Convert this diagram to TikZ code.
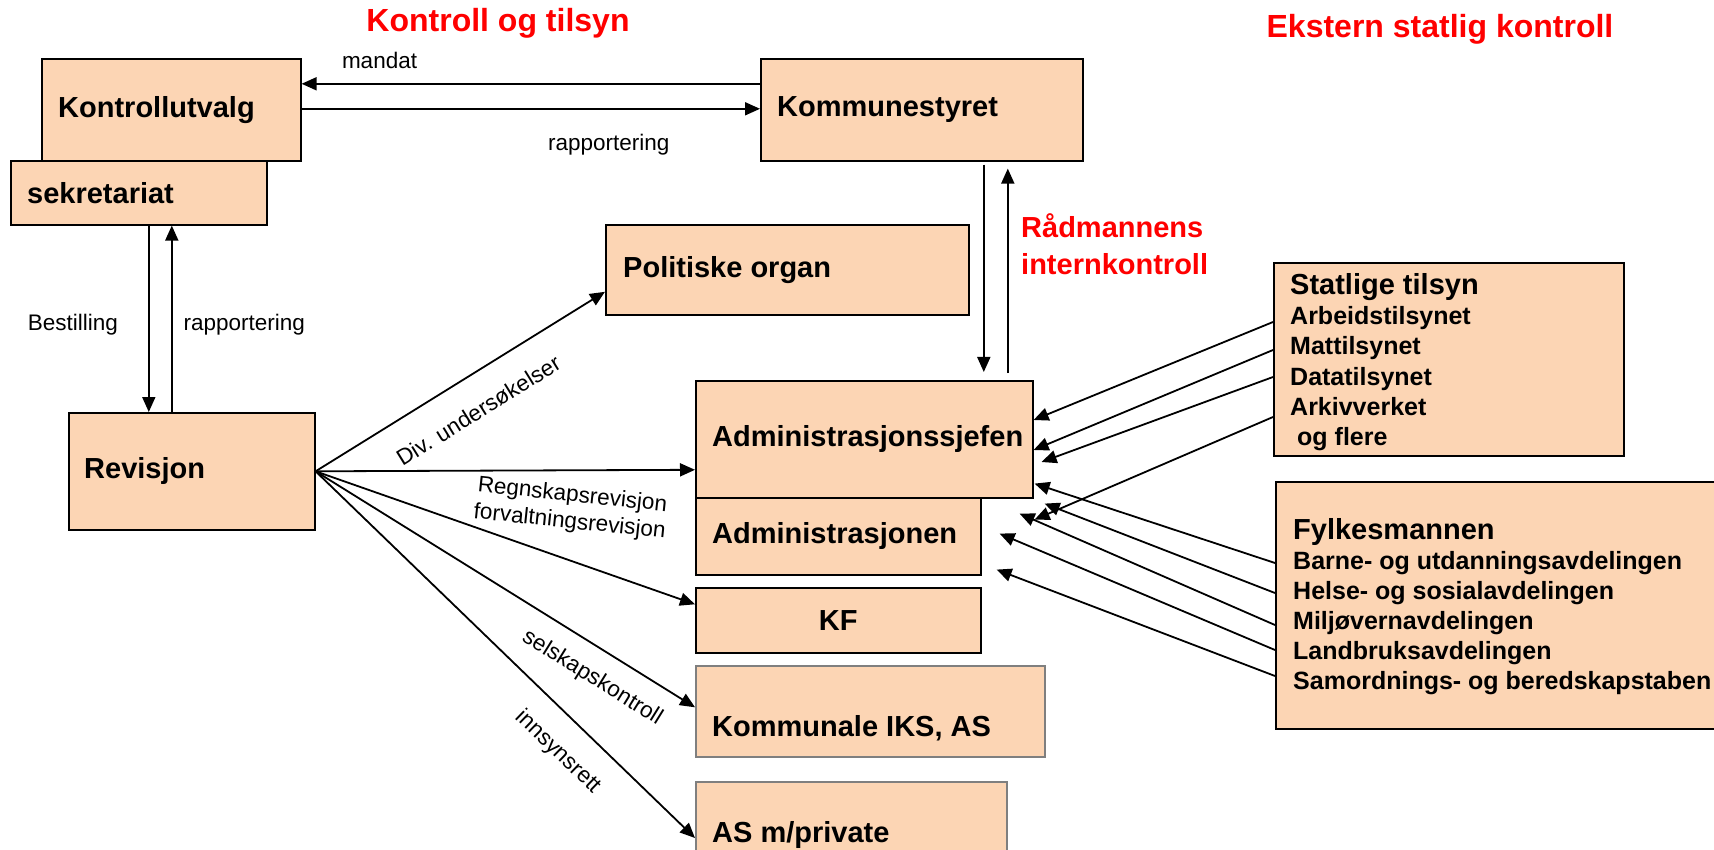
\documentclass[tikz,border=0pt]{standalone}
\usepackage{fontspec}
\setmainfont{Liberation Sans}
\usetikzlibrary{arrows.meta,positioning,calc}
\definecolor{peach}{HTML}{FCD5B4}
\definecolor{boxgray}{HTML}{7F7F7F}

\begin{document}
\begin{tikzpicture}[x=1pt,y=-1pt,
  box/.style={draw,fill=peach,line width=1.6pt,anchor=north west,inner sep=0pt},
  grey box/.style={box,draw=boxgray},
  txt/.style={font=\fontsize{29}{35}\selectfont\bfseries,inner sep=0pt},
  sub/.style={font=\fontsize{25}{30}\selectfont\bfseries,inner sep=0pt,anchor=base west},
  lbl/.style={font=\fontsize{22.5}{27}\selectfont,inner sep=0pt},
  arr/.style={-{Triangle[length=15pt,width=13pt]},line width=1.8pt},
  redtxt/.style={font=\fontsize{#1}{38}\selectfont\bfseries,text=red,inner sep=0pt}]

\clip (0,0) rectangle (1714,850);

% titler
\node[redtxt=32,anchor=base] (tittel) at (498,32) {Kontroll og tilsyn};
\node[redtxt=32,anchor=base] (ekstern) at (1440,38) {Ekstern statlig kontroll};
\node[redtxt=29,anchor=base west] (radm1) at (1021,238) {Rådmannens};
\node[redtxt=29,anchor=base west] (radm2) at (1021,275) {internkontroll};

% bokser
\node[box,minimum width=259,minimum height=102] (kutv) at (41,58) {};
\node[box,minimum width=256,minimum height=64] (sekr) at (10,160) {};
\node[box,minimum width=322,minimum height=102] (kstyre) at (760,58) {};
\node[box,minimum width=363,minimum height=90] (polit) at (605,224) {};
\node[box,minimum width=246,minimum height=117] (rev) at (68,412) {};
\node[box,minimum width=337,minimum height=117] (sjef) at (695,380) {};
\node[box,minimum width=285,minimum height=77] (adm) at (695,497) {};
\node[box,minimum width=285,minimum height=65] (kf) at (695,587) {};
\node[grey box,minimum width=349,minimum height=91] (iks) at (695,665) {};
\node[grey box,minimum width=311,minimum height=100] (asp) at (695,781) {};
\node[box,minimum width=350,minimum height=193] (statlig) at (1273,262) {};
\node[box,minimum width=460,minimum height=247] (fylke) at (1275,481) {};

\node[txt,right=17pt of kutv.west] (kutvtxt) {Kontrollutvalg};
\node[txt,right=17pt of sekr.west] (sekrtxt) {sekretariat};
\node[txt,right=17pt of kstyre.west] (kstyretxt) {Kommunestyret};
\node[txt,right=18pt of polit.west] (polittxt) {Politiske organ};
\node[txt,right=16pt of rev.west] (revtxt) {Revisjon};
\node[txt,right=17pt of sjef.west] (sjeftxt) {Administrasjonssjefen};
\node[txt,right=17pt of adm.west] (admtxt) {Administrasjonen};
\node[txt] (kftxt) at (kf.center) {KF};
\node[txt,anchor=west] (ikstxt) at ([xshift=17,yshift=-17]iks.west) {Kommunale IKS, AS};
\node[txt,anchor=west] (asptxt) at ([xshift=17,yshift=-54]asp.north west) {AS m/private};

% statlige tilsyn og fylkesmannen
\node[txt,anchor=base west] (st0) at (1290,295) {Statlige tilsyn};
\foreach \t [count=\i] in {Arbeidstilsynet,Mattilsynet,Datatilsynet,Arkivverket,\hspace{7pt}og flere}
  \node[sub] (st\i) at (1290,295+30*\i) {\t};
\node[txt,anchor=base west] (fy0) at (1293,539) {Fylkesmannen};
\foreach \t [count=\i] in {Barne- og utdanningsavdelingen,Helse- og sosialavdelingen,Miljøvernavdelingen,Landbruksavdelingen,Samordnings- og beredskapstaben}
  \node[sub] (fy\i) at (1293,539+30*\i) {\t};

% kontrollutvalg <-> kommunestyret
\draw[arr] ([yshift=26]kstyre.west) -- ([yshift=26]kutv.east) node[lbl,pos=.83,above=14pt] {mandat};
\draw[arr] ([yshift=1]kutv.east) -- ([yshift=1]kstyre.west) node[lbl,pos=.67,below=24pt] {rapportering};

% sekretariat <-> revisjon
\draw[arr] ([xshift=10]sekr.south) -- ([xshift=10]sekr.south |- rev.north) node[lbl,pos=.53,left=30pt] {Bestilling};
\draw[arr] ([xshift=33]sekr.south |- rev.north) -- ([xshift=33]sekr.south) node[lbl,pos=.47,right=11pt] {rapportering};

% kommunestyret <-> administrasjonssjefen
\draw[arr] ([xshift=62,yshift=-3]kstyre.south) -- ([xshift=119.5,yshift=8]sjef.north);
\draw[arr] ([xshift=143.5,yshift=7]sjef.north) -- ([xshift=86,yshift=-7]kstyre.south);

% revisjon
\draw[arr] (rev.east) -- ([yshift=-22]polit.west) node[lbl,pos=.5,sloped,below=25pt] {Div. undersøkelser};
\draw[arr] (rev.east) -- ([yshift=-30.5]sjef.west) node[lbl,pos=.68,below=14pt,rotate=-6,align=center] {Regnskapsrevisjon\\forvaltningsrevisjon};
\draw[arr] (rev.east) -- ([yshift=16]kf.west);
\draw[arr] (rev.east) -- ([yshift=4]iks.west) node[lbl,pos=.77,sloped,below=18pt] {selskapskontroll};
\draw[arr] (rev.east) -- ([yshift=-57]asp.north west) node[lbl,pos=.7,sloped,below=22pt] {innsynsrett};

% ekstern statlig kontroll
\draw[arr] ([yshift=-60]statlig.north west) -- ([yshift=-40]sjef.north east);
\draw[arr] ([yshift=-88]statlig.north west) -- ([yshift=-70]sjef.north east);
\draw[arr] ([yshift=-115]statlig.north west) -- ([xshift=8,yshift=-82]sjef.north east);
\draw[arr] ([yshift=-155]statlig.north west) -- ([xshift=1,yshift=-21]sjef.south east);
\draw[arr] ([yshift=-82]fylke.north west) -- ([xshift=1,yshift=15]sjef.south east);
\draw[arr] ([yshift=-112]fylke.north west) -- ([xshift=11,yshift=-5]sjef.south east);
\draw[arr] ([yshift=-144]fylke.north west) -- ([xshift=-14,yshift=-15]sjef.south east);
\draw[arr] ([yshift=-169]fylke.north west) -- ([xshift=-34,yshift=-35]sjef.south east);
\draw[arr] ([yshift=-195]fylke.north west) -- ([xshift=-37,yshift=-71]sjef.south east);
\end{tikzpicture}
\end{document}
